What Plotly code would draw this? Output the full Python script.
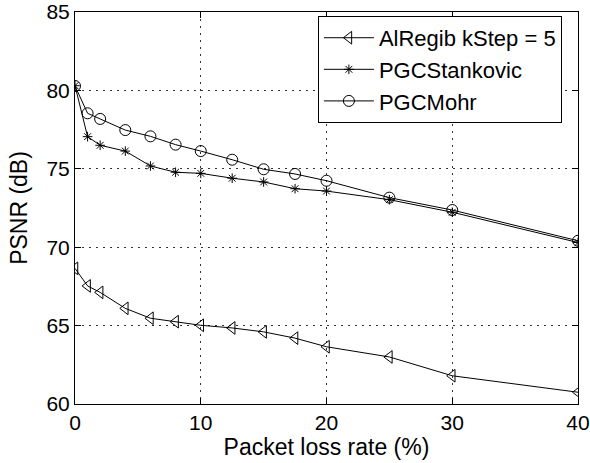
import plotly.graph_objects as go

x_loss = [0, 1, 2, 4, 6, 8, 10, 12.5, 15, 17.5, 20, 25, 30, 40]
alregib = [68.65, 67.53, 67.12, 66.1, 65.47, 65.25, 65.02, 64.85, 64.6, 64.2, 63.65, 63.0, 61.8, 60.75]
stankovic = [80.3, 77.05, 76.5, 76.13, 75.18, 74.78, 74.71, 74.4, 74.16, 73.73, 73.58, 73.03, 72.23, 70.3]
mohr = [80.28, 78.54, 78.18, 77.47, 77.07, 76.54, 76.13, 75.58, 74.97, 74.67, 74.24, 73.16, 72.37, 70.41]

names = ["AlRegib kStep = 5", "PGCStankovic", "PGCMohr"]
symbols = ["triangle-left-open", "asterisk-open", "circle-open"]
sizes = [11, 8, 11]

fig = go.Figure()
for ys, nm, sym, sz in zip([alregib, stankovic, mohr], names, symbols, sizes):
    fig.add_trace(go.Scatter(
        x=x_loss, y=ys, name=nm, mode="lines+markers",
        line=dict(color="black", width=1),
        marker=dict(symbol=sym, size=sz, color="black", line=dict(color="black", width=1)),
    ))

fam = "Arial, Liberation Sans, Helvetica, sans-serif"
tick_font = dict(family=fam, size=21, color="black")
title_font = dict(family=fam, size=23, color="black")
axis_common = dict(
    showline=True, linecolor="black", linewidth=1, mirror="allticks",
    ticks="inside", ticklen=6, tickcolor="black",
    showgrid=True, gridcolor="#333333", griddash="2px,5px", gridwidth=1,
    zeroline=False, tickfont=tick_font, automargin=False,
)
fig.update_layout(
    width=590, height=463,
    margin=dict(l=75, r=12, t=12, b=59),
    paper_bgcolor="white", plot_bgcolor="white",
    font=tick_font,
    showlegend=True,
    legend=dict(x=0.968, y=0.99, xanchor="right", yanchor="top",
                bordercolor="black", borderwidth=1, bgcolor="white",
                font=dict(family=fam, size=22, color="black"),
                tracegroupgap=0, itemwidth=50),
    xaxis=dict(range=[0, 40], tickvals=[0, 10, 20, 30, 40],
               title=dict(text="Packet loss rate (%)", font=title_font, standoff=0), **axis_common),
    yaxis=dict(range=[60, 85], tickvals=[60, 65, 70, 75, 80, 85],
               title=dict(text="PSNR (dB)", font=title_font, standoff=12), **axis_common),
)
fig.write_html("out.html")
